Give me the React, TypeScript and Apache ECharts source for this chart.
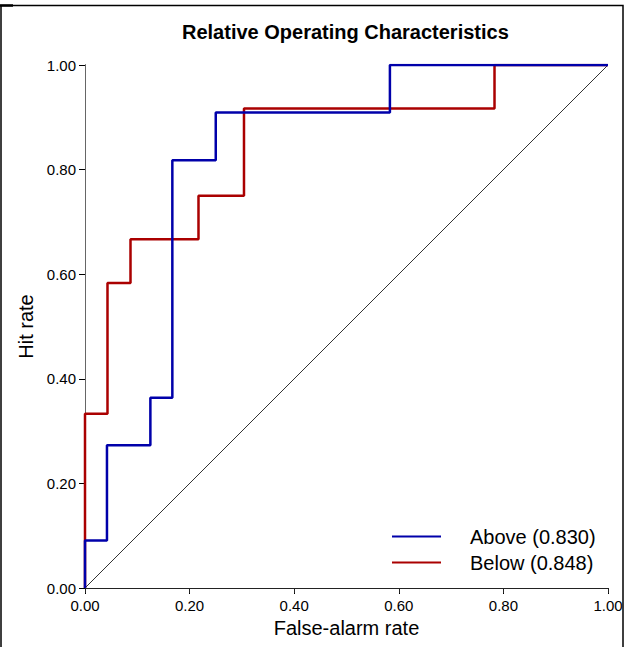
import React, { useEffect, useRef } from "react";
import * as echarts from "echarts";

const chartTitle = "Relative Operating Characteristics";
const xAxisName = "False-alarm rate";
const yAxisName = "Hit rate";
const aboveName = "Above (0.830)";
const belowName = "Below (0.848)";

// ROC points (false-alarm rate, hit rate)
const aboveFalseAlarm = [0, 0, 0.042, 0.125, 0.167, 0.25, 0.583, 1];
const aboveHit = [0, 0.091, 0.273, 0.364, 0.818, 0.909, 1, 1];
const belowFalseAlarm = [0, 0, 0.043, 0.087, 0.217, 0.304, 0.783, 1];
const belowHit = [0, 0.333, 0.583, 0.667, 0.75, 0.917, 1, 1];
const diagonalX = [0, 1];
const diagonalY = [0, 1];

const FONT = "'Liberation Sans', Arial, sans-serif";

const zip = (xs: number[], ys: number[]) => xs.map((x, i) => [x, ys[i]]);

export default function App() {
  const ref = useRef<HTMLDivElement>(null);

  useEffect(() => {
    if (!ref.current) return;
    const chart = echarts.init(ref.current, null, { renderer: "svg" });
    const fmt = (v: number) => v.toFixed(2);
    chart.setOption({
      animation: false,
      backgroundColor: "#ffffff",
      textStyle: { fontFamily: FONT },
      title: {
        text: chartTitle,
        left: 177,
        top: 17,
        textStyle: { fontFamily: FONT, fontSize: 20, fontWeight: "bold", color: "#000" },
      },
      graphic: [
        {
          type: "rect",
          shape: { x: 1, y: 5.5, width: 622, height: 700 },
          style: { fill: "none", stroke: "#000", lineWidth: 1.5 },
          silent: true,
        },
        {
          type: "line",
          shape: { x1: 0, y1: 5.5, x2: 13, y2: 5.5 },
          style: { stroke: "#000", lineWidth: 2.5 },
          silent: true,
        },
      ],
      legend: {
        orient: "vertical",
        left: 387,
        top: 521,
        itemWidth: 49,
        itemHeight: 2,
        itemGap: 5,
        icon: "rect",
        data: [aboveName, belowName],
        textStyle: {
          fontFamily: FONT,
          fontSize: 20,
          color: "#000",
          lineHeight: 21,
          padding: [0, 0, 0, 24],
        },
      },
      grid: { left: 85, top: 65, width: 523, height: 523, containLabel: false },
      xAxis: [
        {
          type: "value",
          position: "bottom",
          min: 0,
          max: 1,
          interval: 0.2,
          name: xAxisName,
          nameLocation: "middle",
          nameGap: 28,
          nameTextStyle: { fontFamily: FONT, fontSize: 20, color: "#000" },
          axisLine: { show: true, lineStyle: { color: "#000", width: 1 } },
          axisTick: { show: true, inside: false, length: 6, lineStyle: { color: "#000" } },
          axisLabel: { formatter: fmt, fontSize: 15, color: "#000", margin: 10, fontFamily: FONT },
          splitLine: { show: false },
        },
        {
          type: "value",
          position: "top",
          min: 0,
          max: 1,
          interval: 0.2,
          axisLine: { show: true, lineStyle: { color: "#222", width: 1 } },
          axisTick: { show: true, inside: true, length: 5, lineStyle: { color: "#222" } },
          axisLabel: { show: false },
          splitLine: { show: false },
        },
      ],
      yAxis: [
        {
          type: "value",
          position: "left",
          min: 0,
          max: 1,
          interval: 0.2,
          name: yAxisName,
          nameLocation: "middle",
          nameGap: 45,
          nameTextStyle: { fontFamily: FONT, fontSize: 20, color: "#000" },
          axisLine: { show: true, lineStyle: { color: "#000", width: 1 } },
          axisTick: { show: true, inside: false, length: 6, lineStyle: { color: "#000" } },
          axisLabel: { formatter: fmt, fontSize: 15, color: "#000", margin: 9, fontFamily: FONT },
          splitLine: { show: false },
        },
        {
          type: "value",
          position: "right",
          min: 0,
          max: 1,
          axisLine: { show: true, lineStyle: { color: "#666", width: 1 } },
          axisTick: { show: false },
          axisLabel: { show: false },
          splitLine: { show: false },
        },
      ],
      series: [
        {
          name: "diagonal",
          type: "line",
          data: zip(diagonalX, diagonalY),
          showSymbol: false,
          symbol: "none",
          silent: true,
          lineStyle: { color: "#333", width: 1 },
          z: 1,
        },
        {
          name: belowName,
          type: "line",
          data: zip(belowFalseAlarm, belowHit),
          step: "end",
          symbol: "none",
          showSymbol: false,
          color: "#aa0000",
          itemStyle: { color: "#aa0000" },
          lineStyle: { color: "#aa0000", width: 2.5 },
          z: 2,
        },
        {
          name: aboveName,
          type: "line",
          data: zip(aboveFalseAlarm, aboveHit),
          step: "end",
          symbol: "none",
          showSymbol: false,
          color: "#0000aa",
          itemStyle: { color: "#0000aa" },
          lineStyle: { color: "#0000aa", width: 2.5 },
          z: 3,
        },
      ],
    });
    return () => chart.dispose();
  }, []);

  return (
    <div
      ref={ref}
      style={{ position: "absolute", left: 0, top: 0, width: 629, height: 647 }}
    />
  );
}
